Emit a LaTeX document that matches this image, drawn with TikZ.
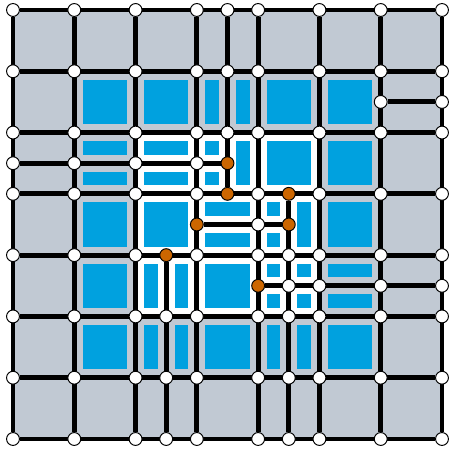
\documentclass[tikz,border=0pt]{standalone}
\usepackage{tikz}
\usetikzlibrary{backgrounds}
\usepackage{xcolor}
\definecolor{meshgray}{RGB}{193,201,211}
\definecolor{cellblue}{RGB}{0,161,223}
\definecolor{hangorange}{RGB}{204,102,0}

\begin{document}
\begin{tikzpicture}[x=1cm, y=-1cm,
    meshline/.style={line width=2.3pt},
    vert/.style={circle, draw=black, line width=0.45pt, fill=white,
      inner sep=0pt, minimum size=0.21cm},
    hang/.style={vert, fill=hangorange}]
    \def\ins{0.14}  % inset of the blue cell interiors
    \useasboundingbox (-0.212,-0.163) rectangle (7.13,7.196);
    % Vertices, in half-units: v<2x>-<2y>
    \foreach \a in {0,2,...,14} {
      \foreach \b in {0,2,...,14} {
        \node[vert] (v\a-\b) at (\a/2, \b/2) {};
      }
    }
    \foreach \a/\b in {
        7/0, 7/2, 7/4, 5/10, 5/12, 5/14,
        9/8, 9/9, 9/10, 9/12, 9/14, 12/3, 14/3,
        0/5, 2/5, 4/5, 6/5, 8/7, 10/9, 12/9, 14/9} {
      \node[vert] (v\a-\b) at (\a/2, \b/2) {};
    }
    % Hanging vertices
    \foreach \a/\b in {7/5, 7/6, 6/7, 9/6, 9/7, 5/8, 8/9} {
      \node[hang] (v\a-\b) at (\a/2, \b/2) {};
    }
    \begin{scope}[on background layer]
      % Domain and refined block
      \fill[meshgray] (v0-0.center) rectangle (v14-14.center);
      \fill[white] (v4-4.center) rectangle (v10-10.center);
      % Cell interiors: {x0/y0/x1/y1} in half-units
      \foreach \xa/\ya/\xb/\yb in {
          2/2/4/4, 4/2/6/4, 6/2/7/4, 7/2/8/4, 8/2/10/4, 10/2/12/4,
          2/4/4/5, 2/5/4/6, 4/4/6/5, 4/5/6/6, 6/4/7/5, 6/5/7/6,
          7/4/8/6, 8/4/10/6, 10/4/12/6,
          2/6/4/8, 4/6/6/8, 6/6/8/7, 6/7/8/8, 8/6/9/7, 8/7/9/8,
          9/6/10/8, 10/6/12/8,
          2/8/4/10, 4/8/5/10, 5/8/6/10, 6/8/8/10, 8/8/9/9, 9/8/10/9,
          8/9/9/10, 9/9/10/10, 10/8/12/9, 10/9/12/10,
          2/10/4/12, 4/10/5/12, 5/10/6/12, 6/10/8/12, 8/10/9/12,
          9/10/10/12, 10/10/12/12} {
        \fill[cellblue] (\xa/2+\ins, \ya/2+\ins) rectangle (\xb/2-\ins, \yb/2-\ins);
      }
      % Mesh edges
      \foreach \a in {0,2,...,14} {
        \draw[meshline] (v\a-0) -- (v\a-14);
        \draw[meshline] (v0-\a) -- (v14-\a);
      }
      \foreach \s/\t in {7-0/7-6, 5-8/5-14, 9-6/9-14,
          12-3/14-3, 0-5/7-5, 6-7/9-7, 8-9/14-9} {
        \draw[meshline] (v\s) -- (v\t);
      }
    \end{scope}
  \end{tikzpicture}
\end{document}
